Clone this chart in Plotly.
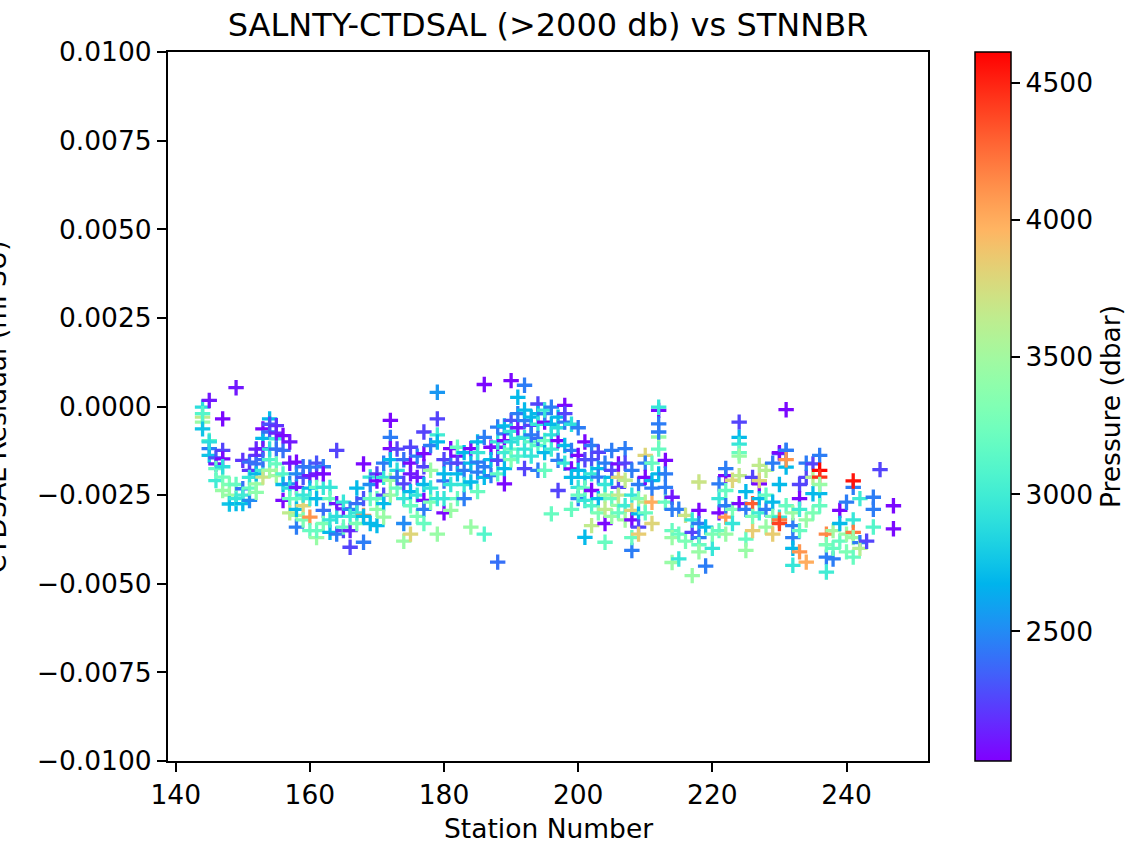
import math
import plotly.graph_objects as go

# ---- data: per-station residuals (x1e-3 PSU) and pressures (dbar) ----
station_data = {
    144: [(-0.02, 2900), (-0.30, 3650), (-0.44, 3450), (-0.63, 2750), (-0.20, 3100)],
    145: [(0.17, 2100), (-0.96, 3150), (-1.19, 2450), (-1.38, 2750), (-1.00, 2900)],
    146: [(-1.62, 2100), (-2.09, 3000), (-1.45, 2300), (-1.75, 3200)],
    147: [(-0.35, 2050), (-1.24, 2250), (-1.48, 2050), (-1.99, 3250), (-2.37, 3450), (-1.70, 2900)],
    148: [(-2.20, 3300), (-2.50, 3450), (-2.75, 2750)],
    149: [(0.53, 2100), (-2.74, 2700), (-2.60, 2950), (-2.20, 3200)],
    150: [(-1.52, 2200), (-2.32, 2400), (-2.74, 2700), (-2.50, 3000)],
    151: [(-1.57, 2400), (-1.80, 2200), (-2.65, 2500), (-2.30, 3200), (-2.00, 2950)],
    152: [(-1.38, 2200), (-1.62, 2400), (-2.18, 3450), (-2.42, 3400), (-1.20, 2150), (-1.90, 2700)],
    153: [(-0.63, 2050), (-0.90, 2700), (-1.19, 2100), (-1.80, 3000), (-1.99, 3700), (-1.50, 2400)],
    154: [(-0.35, 2700), (-0.72, 2400), (-1.80, 3500), (-0.50, 2300), (-1.50, 3100), (-1.20, 2900)],
    155: [(-0.54, 2200), (-0.91, 3000), (-1.20, 2400), (-1.62, 3200), (-1.95, 3500), (-0.75, 2150)],
    156: [(-1.24, 2400), (-2.65, 2050), (-0.82, 2050), (-1.90, 3100), (-2.20, 2700)],
    157: [(-2.18, 2500), (-1.00, 2100), (-2.30, 2900), (-1.60, 2100), (-2.60, 3200), (-3.00, 3650)],
    158: [(-1.57, 2050), (-2.28, 2100), (-2.60, 3200), (-3.07, 3500), (-3.40, 2450), (-2.90, 2700), (-1.90, 2500)],
    159: [(-2.80, 3800), (-2.00, 2300), (-2.50, 2950), (-3.20, 3300), (-1.70, 2400)],
    160: [(-1.95, 2100), (-1.71, 2450), (-3.12, 4100), (-2.30, 2700), (-2.60, 3000), (-3.50, 3200)],
    161: [(-1.90, 2100), (-2.28, 3200), (-3.70, 3450), (-3.50, 3200), (-1.60, 2300), (-2.60, 2700)],
    162: [(-1.70, 2450), (-2.28, 2950), (-2.93, 2400), (-1.90, 2050), (-3.30, 3300)],
    163: [(-2.28, 2950), (-3.55, 2700), (-2.60, 3200), (-3.20, 2950)],
    164: [(-1.24, 2250), (-2.74, 2100), (-3.60, 2450), (-3.10, 2900)],
    165: [(-2.89, 2100), (-3.50, 2250), (-2.70, 2950), (-3.40, 3200)],
    166: [(-3.97, 2250), (-3.50, 2150), (-2.90, 2500), (-3.10, 3000)],
    167: [(-2.74, 2400), (-3.30, 3300), (-2.30, 2700), (-3.00, 2950)],
    168: [(-1.62, 2050), (-3.07, 4100), (-3.83, 2450), (-3.10, 2700), (-2.60, 2300)],
    169: [(-1.99, 2950), (-2.60, 3200), (-3.30, 2700), (-2.20, 2500)],
    170: [(-1.90, 2250), (-2.10, 2050), (-3.36, 2700), (-2.60, 3200), (-2.90, 3400)],
    171: [(-2.50, 2250), (-2.74, 2700), (-3.12, 3450), (-2.00, 2950), (-1.60, 2450)],
    172: [(-0.39, 2050), (-0.87, 2450), (-1.19, 2050), (-2.08, 3450), (-2.50, 3450), (-1.50, 2700)],
    173: [(-1.20, 2250), (-1.80, 2900), (-2.30, 3200), (-2.00, 2400)],
    174: [(-1.50, 2400), (-2.18, 2250), (-3.30, 2500), (-3.80, 3450), (-2.60, 2950)],
    175: [(-1.15, 2250), (-1.60, 2050), (-3.60, 3800), (-2.80, 3200), (-1.90, 2100), (-2.40, 2700)],
    176: [(-2.00, 2100), (-2.50, 2950), (-3.10, 3300), (-1.40, 2450)],
    177: [(-2.65, 2050), (-2.90, 2450), (-3.30, 3200), (-1.70, 2250), (-1.33, 2050), (-0.72, 2250), (-2.20, 2700)],
    178: [(-1.80, 3450), (-2.30, 2950), (-1.10, 2450), (-2.70, 3300)],
    179: [(0.40, 2550), (-0.35, 2250), (-0.80, 3000), (-1.00, 2700), (-3.60, 3450), (-2.60, 2950)],
    180: [(-3.00, 2050), (-2.10, 2400), (-2.60, 2950), (-1.50, 2250), (-1.90, 2700)],
    181: [(-2.93, 3450), (-1.19, 2050), (-1.60, 2400), (-2.20, 2950)],
    182: [(-1.40, 2050), (-2.60, 3200), (-1.15, 3200), (-1.60, 2250), (-1.90, 2700)],
    183: [(-2.60, 2450), (-1.80, 2450), (-1.30, 2700), (-2.20, 2950)],
    184: [(-1.19, 2050), (-3.40, 3450), (-1.60, 2700), (-2.13, 2700)],
    185: [(-1.57, 2450), (-1.85, 2450), (-1.00, 2700), (-1.30, 2950), (-2.40, 3200)],
    186: [(0.62, 2050), (-0.87, 2450), (-3.60, 3100), (-1.70, 2450), (-2.00, 2700)],
    187: [(-1.15, 2050), (-1.50, 2700), (-1.95, 2450)],
    188: [(-1.15, 2100), (-0.58, 2450), (-1.52, 2250), (-4.39, 2400), (-1.00, 2950), (-1.90, 3150)],
    189: [(-0.77, 2450), (-0.96, 2050), (-2.18, 2050), (-1.75, 2700), (-0.55, 2700), (-1.30, 3000)],
    190: [(0.73, 2050), (-0.39, 2300), (-1.20, 3200), (-0.70, 2950), (-1.00, 2900), (-1.50, 3300)],
    191: [(0.26, 2700), (-0.20, 2450), (-0.90, 2950), (-1.40, 3100), (-0.60, 2100)],
    192: [(0.60, 2450), (-0.40, 2450), (-0.87, 2950), (-1.20, 2950), (-1.75, 2250), (-0.10, 2700)],
    193: [(-0.53, 2250), (-0.30, 2700), (-1.00, 3150), (-1.40, 2950), (-0.80, 2450)],
    194: [(0.07, 2250), (-0.20, 2700), (-0.50, 2950), (-1.10, 3100), (-1.80, 2450), (-0.90, 2400)],
    195: [(-0.44, 2050), (-0.20, 2450), (-0.96, 3200), (-1.80, 3200), (-0.10, 2950), (-1.30, 2700)],
    196: [(-0.02, 2450), (-3.03, 3200), (-0.50, 2700), (-0.80, 2900), (-1.20, 3000)],
    197: [(-0.96, 2050), (-1.52, 2450), (-2.37, 2250), (-0.30, 2700), (-0.60, 2900)],
    198: [(0.03, 2050), (-0.44, 2450), (-1.10, 2700), (-1.60, 2950), (-0.20, 2250)],
    199: [(-1.24, 2450), (-1.76, 2050), (-2.90, 3200), (-0.50, 2900), (-2.00, 2700)],
    200: [(-1.38, 2050), (-2.28, 2950), (-2.60, 2450), (-0.60, 2450), (-1.80, 2700), (-2.50, 3200)],
    201: [(-1.00, 2050), (-2.00, 2700), (-2.65, 2950), (-3.69, 2700), (-1.50, 2250), (-2.30, 3200)],
    202: [(-1.10, 2450), (-2.37, 2050), (-3.36, 3650), (-1.50, 2300), (-2.80, 3100), (-1.90, 2950)],
    203: [(-1.75, 2700), (-2.60, 2700), (-1.99, 2450), (-1.29, 2250), (-3.00, 3300)],
    204: [(-2.50, 3450), (-3.30, 2050), (-3.83, 3200), (-1.60, 2450), (-2.20, 2950), (-2.90, 3650)],
    205: [(-1.24, 2450), (-2.00, 2700), (-2.60, 3200), (-3.10, 3450), (-1.80, 2250)],
    206: [(-2.00, 3800), (-2.28, 2250), (-2.79, 3450), (-1.62, 2050), (-2.50, 3650), (-3.00, 3200)],
    207: [(-1.19, 2450), (-2.08, 3650), (-2.80, 3000), (-1.60, 2250), (-3.20, 3500)],
    208: [(-1.80, 2450), (-2.93, 3800), (-3.20, 2050), (-4.06, 2450), (-2.50, 2950), (-3.70, 3200)],
    209: [(-3.03, 2700), (-3.40, 2250), (-3.60, 3850), (-2.20, 2450), (-2.60, 3300)],
    210: [(-1.38, 3800), (-1.60, 2450), (-2.00, 2050), (-2.70, 3600), (-3.00, 3200)],
    211: [(-1.60, 3200), (-2.09, 2700), (-2.70, 4000), (-3.30, 3800), (-2.30, 2450)],
    212: [(-0.11, 2050), (-0.49, 2450), (-0.86, 3450), (-1.20, 3200), (-0.02, 2950), (-0.72, 2450), (-1.90, 2700)],
    213: [(-1.52, 2050), (-1.90, 2450), (-2.28, 2450), (-2.70, 3200)],
    214: [(-2.56, 2100), (-3.50, 3200), (-3.70, 3450), (-4.40, 3450), (-2.90, 2450)],
    215: [(-2.90, 2450), (-4.30, 2950), (-3.60, 3200)],
    216: [(-3.07, 3700), (-3.80, 3300)],
    217: [(-3.55, 2250), (-4.77, 3450), (-3.20, 2950)],
    218: [(-2.13, 3700), (-2.93, 2050), (-3.30, 2450), (-3.70, 2450), (-3.90, 3200), (-4.10, 3450)],
    219: [(-4.50, 2450), (-3.40, 2700)],
    220: [(-4.00, 2950), (-3.60, 3300)],
    221: [(-2.18, 2450), (-3.00, 2050), (-3.50, 3200), (-2.60, 2950)],
    222: [(-3.60, 3450), (-3.12, 4100), (-1.95, 2050), (-1.75, 2450), (-2.37, 3200), (-2.80, 2450)],
    223: [(-2.08, 3800), (-2.90, 3300), (-3.30, 2950)],
    224: [(-0.44, 2250), (-0.87, 2700), (-1.06, 2950), (-1.30, 3200), (-1.40, 3450), (-1.95, 3650), (-2.74, 2050)],
    225: [(-3.74, 3200), (-4.06, 3450), (-2.90, 2450), (-2.40, 2700)],
    226: [(-3.50, 3850), (-2.74, 4300), (-2.00, 2250), (-3.10, 3300)],
    227: [(-2.18, 2050), (-1.66, 3650), (-2.09, 3800), (-2.60, 2700), (-3.00, 3000)],
    228: [(-2.90, 2450), (-3.40, 3450), (-2.50, 3200), (-1.80, 3600)],
    229: [(-3.60, 3850), (-2.70, 2700), (-3.10, 3300), (-1.60, 2450)],
    230: [(-1.33, 2250), (-1.30, 2050), (-3.12, 2950), (-3.20, 4200), (-3.30, 4400), (-2.20, 2700)],
    231: [(-1.24, 2450), (-1.71, 2700), (-0.09, 2050), (-1.24, 2450), (-2.80, 3200), (-1.50, 4100)],
    232: [(-3.36, 2450), (-3.70, 2450), (-4.00, 2700), (-4.48, 2950), (-3.00, 3450)],
    233: [(-2.20, 2250), (-2.60, 2050), (-4.10, 4100), (-3.50, 3200), (-2.90, 3000)],
    234: [(-2.00, 2250), (-4.39, 4000), (-1.60, 2450), (-3.20, 3450)],
    235: [(-1.62, 2250), (-2.46, 2700), (-3.00, 3300), (-2.00, 3600)],
    236: [(-1.38, 2450), (-1.80, 4600), (-1.99, 4450), (-2.46, 2700), (-2.20, 3450), (-2.80, 3200)],
    237: [(-3.60, 4150), (-4.25, 2450), (-4.67, 3000), (-3.90, 3300)],
    238: [(-4.30, 2450), (-3.50, 3500), (-4.00, 3200)],
    239: [(-2.93, 2050), (-3.30, 2700), (-3.80, 3200)],
    240: [(-2.70, 2450), (-3.60, 3450), (-4.10, 3300)],
    241: [(-2.28, 2450), (-2.10, 4550), (-3.20, 2950), (-3.55, 4200), (-4.25, 3200), (-3.70, 3450)],
    242: [(-3.84, 2450), (-2.60, 3000), (-4.00, 3600)],
    243: [(-3.80, 2250)],
    244: [(-2.56, 2450), (-2.90, 2450), (-3.40, 3100)],
    245: [(-1.78, 2250)],
    247: [(-2.80, 2050), (-3.45, 2050)],
}

stnnbr = []
residual = []
pressure = []
for s, pts in station_data.items():
    for v, p in pts:
        stnnbr.append(s)
        residual.append(v * 1e-3)
        pressure.append(p)

y_ticks = [-0.01, -0.0075, -0.005, -0.0025, 0.0, 0.0025, 0.005, 0.0075, 0.01]
y_ticktext = ["\u22120.0100", "\u22120.0075", "\u22120.0050", "\u22120.0025",
              "0.0000", "0.0025", "0.0050", "0.0075", "0.0100"]
x_ticks = [140, 160, 180, 200, 220, 240]
cbar_ticks = [2500, 3000, 3500, 4000, 4500]

# matplotlib 'rainbow' colormap
def rainbow(x):
    r = min(1.0, abs(2 * x - 0.5))
    g = math.sin(math.pi * x)
    b = math.cos(math.pi * x / 2)
    return "rgb(%d,%d,%d)" % (round(r * 255), round(g * 255), round(max(b, 0) * 255))

N = 32
colorscale = [[i / N, rainbow(i / N)] for i in range(N + 1)]

FONT = "DejaVu Sans"
W, H = 1139, 846
L, R, T, B = 168, 1139 - 931, 52, 846 - 761
pw = W - L - R
ph = H - T - B

cmin, cmax = 2027, 4613

fig = go.Figure()
fig.add_trace(go.Scatter(
    x=stnnbr, y=residual, mode="markers",
    marker=dict(
        symbol="cross-thin", size=11,
        color=pressure, colorscale=colorscale, cmin=cmin, cmax=cmax,
        line=dict(width=3.3, color=pressure, colorscale=colorscale, cmin=cmin, cmax=cmax),
        showscale=True,
        colorbar=dict(
            x=(978 - L) / pw, xanchor="left", y=0.5, yanchor="middle",
            len=1, lenmode="fraction", thickness=36, thicknessmode="pixels",
            xpad=0, ypad=0, outlinecolor="black", outlinewidth=1.5,
            ticks="outside", ticklen=9, tickwidth=2, tickcolor="black",
            tickvals=cbar_ticks, tickfont=dict(family=FONT, size=26.5, color="black"),
            title=dict(text="Pressure (dbar)", side="right",
                       font=dict(family=FONT, size=26.5, color="black")),
        ),
    ),
    showlegend=False,
))

axis_common = dict(showline=True, mirror=True, linecolor="black", linewidth=2,
                   ticks="outside", ticklen=9, tickwidth=2, tickcolor="black",
                   showgrid=False, zeroline=False,
                   tickfont=dict(family=FONT, size=26.5, color="black"))

fig.update_xaxes(range=[138.85, 252.15], tickvals=x_ticks, **axis_common)
fig.update_yaxes(range=[-0.01, 0.01], tickvals=y_ticks, ticktext=y_ticktext, **axis_common)

fig.update_layout(
    width=W, height=H,
    margin=dict(l=L, r=R, t=T, b=B, pad=0),
    plot_bgcolor="white", paper_bgcolor="white",
    title=dict(text="SALNTY-CTDSAL (>2000 db) vs STNNBR", x=0.5, xref="paper",
               y=1 - 25 / H, yanchor="middle",
               font=dict(family=FONT, size=32, color="black")),
    annotations=[
        dict(text="Station Number", xref="paper", yref="paper", x=0.5,
             y=-(828 - 761) / ph, xanchor="center", yanchor="middle", showarrow=False,
             font=dict(family=FONT, size=26.5, color="black")),
        dict(text="CTDSAL Residual (mPSU)", xref="paper", yref="paper",
             x=(-4 - L) / pw, y=0.5, xanchor="center", yanchor="middle",
             textangle=-90, showarrow=False,
             font=dict(family=FONT, size=26.5, color="black")),
    ],
)

# remove the default 8px page margin so the figure sits at the window origin
fig.write_html("out.html", config={"displayModeBar": False},
               post_script="document.body.style.margin='0px';document.body.style.overflow='hidden';")
